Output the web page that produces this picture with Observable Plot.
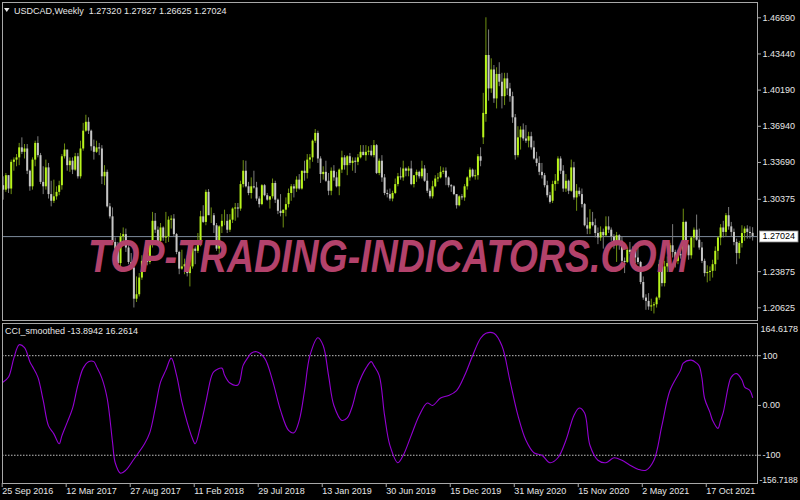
<!DOCTYPE html>
<html><head><meta charset="utf-8">
<script src="https://cdn.jsdelivr.net/npm/d3@7"></script>
<script src="https://cdn.jsdelivr.net/npm/@observablehq/plot@0.6"></script>
<style>
html,body{margin:0;padding:0;background:#000;}
#chart{position:relative;width:800px;height:500px;background:#000;overflow:hidden;}
#main,#cci{position:absolute;left:0;}
#main{top:0;}
#cci{top:321px;}
#overlay{position:absolute;left:0;top:0;pointer-events:none;}
</style></head><body>
<div id="chart">
  <div id="main"></div>
  <div id="cci"></div>
  <svg id="overlay" width="800" height="500"></svg>
</div>
<script>
// ---------------- data ----------------
const symbol = "USDCAD";
const period = "Weekly";
const open = [
1.3160,1.3120,1.3250,1.3130,1.3370,1.3390,1.3410,1.3500,1.3460,1.3490,
1.3290,1.3150,1.3390,1.3540,1.3430,1.3190,1.3150,1.3320,1.3080,1.3020,
1.3060,1.3100,1.3160,1.3420,1.3480,1.3340,1.3380,1.3300,1.3420,1.3240,
1.3490,1.3650,1.3730,1.3650,1.3510,1.3460,1.3500,1.3490,1.3240,1.3280,
1.2970,1.2880,1.2650,1.2590,1.2460,1.2700,1.2720,1.2600,1.2470,1.2420,
1.2140,1.2180,1.2330,1.2480,1.2540,1.2470,1.2640,1.2840,1.2760,1.2660,
1.2780,1.2690,1.2700,1.2850,1.2860,1.2720,1.2560,1.2410,1.2430,1.2450,
1.2370,1.2430,1.2590,1.2570,1.2660,1.2880,1.2830,1.3100,1.2890,1.2890,
1.2800,1.2590,1.2790,1.2840,1.2840,1.2760,1.2850,1.2950,1.2960,1.2950,
1.3170,1.3290,1.3150,1.3090,1.3150,1.3140,1.3040,1.2990,1.3160,1.3070,
1.3030,1.3060,1.3180,1.3030,1.2930,1.2910,1.2940,1.2990,1.3090,1.3150,
1.3130,1.3210,1.3130,1.3290,1.3270,1.3390,1.3410,1.3560,1.3630,1.3400,
1.3260,1.3280,1.3200,1.3110,1.3290,1.3230,1.3150,1.3300,1.3410,1.3340,
1.3420,1.3360,1.3380,1.3370,1.3410,1.3460,1.3430,1.3460,1.3470,1.3430,
1.3520,1.3270,1.3380,1.3230,1.3090,1.3080,1.3040,1.3090,1.3170,1.3240,
1.3230,1.3310,1.3290,1.3310,1.3170,1.3250,1.3280,1.3240,1.3310,1.3200,
1.3110,1.3060,1.3150,1.3220,1.3230,1.3280,1.3290,1.3230,1.3160,1.3150,
1.3080,1.2980,1.3060,1.3050,1.3150,1.3230,1.3300,1.3240,1.3250,1.3420,
1.3590,1.3800,1.4330,1.4030,1.4200,1.3940,1.4160,1.4090,1.3960,1.4120,
1.4030,1.3960,1.3770,1.3430,1.3590,1.3660,1.3580,1.3560,1.3600,1.3500,
1.3400,1.3360,1.3280,1.3250,1.3160,1.3070,1.3020,1.3170,1.3200,1.3400,
1.3290,1.3130,1.3200,1.3110,1.3320,1.3050,1.3110,1.3080,1.2990,1.2800,
1.2770,1.2830,1.2800,1.2730,1.2690,1.2740,1.2710,1.2790,1.2760,1.2700,
1.2620,1.2710,1.2660,1.2480,1.2470,1.2580,1.2560,1.2570,1.2510,1.2470,
1.2290,1.2150,1.2120,1.2070,1.2080,1.2090,1.2150,1.2450,1.2280,1.2430,
1.2460,1.2620,1.2560,1.2480,1.2540,1.2530,1.2830,1.2620,1.2530,1.2690,
1.2760,1.2670,1.2600,1.2480,1.2370,1.2380,1.2390,1.2450,1.2570,1.2690,
1.2780,1.2740,1.2890,1.2790,1.2740,1.2650,1.2550,1.2640,1.2730,1.2770,
1.2740,1.27320];
const high = [
1.3240,1.3270,1.3250,1.3390,1.3410,1.3440,1.3540,1.3590,1.3530,1.3530,
1.3300,1.3410,1.3560,1.3600,1.3450,1.3330,1.3390,1.3360,1.3200,1.3210,
1.3150,1.3200,1.3440,1.3535,1.3480,1.3410,1.3410,1.3450,1.3450,1.3560,
1.3720,1.3793,1.3770,1.3660,1.3570,1.3560,1.3540,1.3520,1.3340,1.3300,
1.3000,1.2960,1.2690,1.2650,1.2730,1.2780,1.2770,1.2620,1.2550,1.2430,
1.2340,1.2370,1.2530,1.2590,1.2560,1.2650,1.2920,1.2910,1.2790,1.2820,
1.2790,1.2920,1.2880,1.2890,1.2900,1.2730,1.2570,1.2580,1.2500,1.2530,
1.2450,1.2600,1.2610,1.2730,1.2930,1.2980,1.3120,1.3125,1.2960,1.2910,
1.2820,1.2800,1.2900,1.2940,1.2900,1.2900,1.2960,1.3000,1.3000,1.3200,
1.3385,1.3380,1.3190,1.3230,1.3290,1.3190,1.3060,1.3170,1.3170,1.3090,
1.3060,1.3220,1.3200,1.3040,1.3080,1.2940,1.3050,1.3130,1.3170,1.3170,
1.3240,1.3260,1.3290,1.3380,1.3440,1.3440,1.3570,1.3665,1.3650,1.3420,
1.3330,1.3380,1.3270,1.3320,1.3340,1.3280,1.3310,1.3470,1.3430,1.3430,
1.3450,1.3410,1.3410,1.3440,1.3520,1.3520,1.3520,1.3510,1.3520,1.3566,
1.3530,1.3400,1.3430,1.3260,1.3120,1.3130,1.3110,1.3220,1.3270,1.3320,
1.3380,1.3320,1.3330,1.3380,1.3230,1.3300,1.3290,1.3380,1.3340,1.3270,
1.3130,1.3200,1.3250,1.3270,1.3330,1.3320,1.3320,1.3240,1.3170,1.3160,
1.3080,1.3070,1.3080,1.3170,1.3240,1.3320,1.3310,1.3300,1.3440,1.3500,
1.3990,1.4669,1.4560,1.4300,1.4240,1.4220,1.4265,1.4170,1.4170,1.4170,
1.4080,1.4000,1.3800,1.3690,1.3690,1.3715,1.3700,1.3640,1.3640,1.3560,
1.3460,1.3420,1.3360,1.3270,1.3200,1.3100,1.3200,1.3260,1.3420,1.3420,
1.3340,1.3260,1.3210,1.3390,1.3370,1.3170,1.3140,1.3130,1.3000,1.2870,
1.2944,1.2920,1.2860,1.2780,1.2790,1.2770,1.2880,1.2880,1.2780,1.2720,
1.2740,1.2720,1.2700,1.2510,1.2600,1.2650,1.2610,1.2600,1.2650,1.2480,
1.2340,1.2180,1.2190,1.2140,1.2110,1.2160,1.2490,1.2460,1.2480,1.2520,
1.2640,1.2810,1.2580,1.2580,1.2590,1.2949,1.2840,1.2630,1.2700,1.2780,
1.2896,1.2770,1.2650,1.2500,1.2440,1.2430,1.2490,1.2610,1.2700,1.2810,
1.2840,1.2910,1.2964,1.2830,1.2770,1.2680,1.2660,1.2800,1.2790,1.2800,
1.2790,1.27827];
const low = [
1.3030,1.3100,1.3090,1.3080,1.3290,1.3330,1.3340,1.3440,1.3400,1.3260,
1.3110,1.3120,1.3330,1.3410,1.3170,1.3080,1.3120,1.3040,1.2970,1.3000,
1.3030,1.3070,1.3120,1.3400,1.3290,1.3280,1.3260,1.3290,1.3220,1.3220,
1.3470,1.3640,1.3620,1.3470,1.3390,1.3450,1.3430,1.3170,1.3160,1.2960,
1.2860,1.2640,1.2540,1.2450,1.2410,1.2640,1.2560,1.2450,1.2410,1.2061,
1.2110,1.2160,1.2310,1.2450,1.2440,1.2450,1.2600,1.2730,1.2630,1.2650,
1.2660,1.2640,1.2650,1.2770,1.2700,1.2540,1.2360,1.2400,1.2360,1.2340,
1.2250,1.2410,1.2450,1.2550,1.2610,1.2820,1.2800,1.2900,1.2820,1.2730,
1.2570,1.2530,1.2730,1.2800,1.2730,1.2740,1.2820,1.2840,1.2870,1.2930,
1.3140,1.3140,1.3070,1.3040,1.3130,1.3020,1.2960,1.2980,1.3060,1.3020,
1.2950,1.3040,1.3000,1.2900,1.2880,1.2780,1.2880,1.2960,1.3020,1.3050,
1.3100,1.3120,1.3120,1.3200,1.3220,1.3310,1.3370,1.3540,1.3360,1.3180,
1.3210,1.3190,1.3070,1.3070,1.3200,1.3140,1.3070,1.3270,1.3300,1.3250,
1.3340,1.3290,1.3270,1.3340,1.3400,1.3430,1.3380,1.3430,1.3420,1.3410,
1.3260,1.3250,1.3190,1.3070,1.3050,1.3020,1.3015,1.3080,1.3150,1.3210,
1.3200,1.3240,1.3240,1.3160,1.3140,1.3190,1.3220,1.3220,1.3190,1.3090,
1.3040,1.3040,1.3140,1.3190,1.3220,1.3260,1.3160,1.3140,1.3100,1.3070,
1.2950,1.2970,1.3030,1.3020,1.3120,1.3200,1.3230,1.3210,1.3210,1.3330,
1.3530,1.3730,1.3920,1.3990,1.3900,1.3850,1.4050,1.3850,1.3880,1.3970,
1.3910,1.3720,1.3390,1.3410,1.3480,1.3560,1.3540,1.3500,1.3480,1.3390,
1.3330,1.3250,1.3220,1.3140,1.3050,1.2995,1.3000,1.3110,1.3170,1.3260,
1.3100,1.3100,1.3080,1.3100,1.3030,1.2930,1.3060,1.2960,1.2790,1.2720,
1.2720,1.2790,1.2690,1.2630,1.2660,1.2590,1.2700,1.2730,1.2660,1.2590,
1.2470,1.2580,1.2460,1.2370,1.2460,1.2540,1.2490,1.2460,1.2450,1.2270,
1.2130,1.2040,1.2040,1.2030,1.2007,1.2060,1.2130,1.2250,1.2250,1.2380,
1.2420,1.2510,1.2420,1.2450,1.2500,1.2510,1.2590,1.2490,1.2500,1.2600,
1.2660,1.2580,1.2460,1.2340,1.2287,1.2300,1.2330,1.2390,1.2490,1.2620,
1.2690,1.2700,1.2760,1.2700,1.2620,1.2450,1.2500,1.2600,1.2660,1.2680,
1.2680,1.26625];
const close = [
1.3120,1.3250,1.3130,1.3370,1.3390,1.3410,1.3500,1.3460,1.3490,1.3290,
1.3150,1.3390,1.3540,1.3430,1.3190,1.3150,1.3320,1.3080,1.3020,1.3060,
1.3100,1.3160,1.3420,1.3480,1.3340,1.3380,1.3300,1.3420,1.3240,1.3490,
1.3650,1.3730,1.3650,1.3510,1.3460,1.3500,1.3490,1.3240,1.3280,1.2970,
1.2880,1.2650,1.2590,1.2460,1.2700,1.2720,1.2600,1.2470,1.2420,1.2140,
1.2180,1.2330,1.2480,1.2540,1.2470,1.2640,1.2840,1.2760,1.2660,1.2780,
1.2690,1.2700,1.2850,1.2860,1.2720,1.2560,1.2410,1.2430,1.2450,1.2370,
1.2430,1.2590,1.2570,1.2660,1.2880,1.2830,1.3100,1.2890,1.2890,1.2800,
1.2590,1.2790,1.2840,1.2840,1.2760,1.2850,1.2950,1.2960,1.2950,1.3170,
1.3290,1.3150,1.3090,1.3150,1.3140,1.3040,1.2990,1.3160,1.3070,1.3030,
1.3060,1.3180,1.3030,1.2930,1.2910,1.2940,1.2990,1.3090,1.3150,1.3130,
1.3210,1.3130,1.3290,1.3270,1.3390,1.3410,1.3560,1.3630,1.3400,1.3260,
1.3280,1.3200,1.3110,1.3290,1.3230,1.3150,1.3300,1.3410,1.3340,1.3420,
1.3360,1.3380,1.3370,1.3410,1.3460,1.3430,1.3460,1.3470,1.3430,1.3520,
1.3270,1.3380,1.3230,1.3090,1.3080,1.3040,1.3090,1.3170,1.3240,1.3230,
1.3310,1.3290,1.3310,1.3170,1.3250,1.3280,1.3240,1.3310,1.3200,1.3110,
1.3060,1.3150,1.3220,1.3230,1.3280,1.3290,1.3230,1.3160,1.3150,1.3080,
1.2980,1.3060,1.3050,1.3150,1.3230,1.3300,1.3240,1.3250,1.3420,1.3380,
1.3810,1.4330,1.4030,1.4200,1.3940,1.4160,1.4090,1.3960,1.4120,1.4030,
1.3960,1.3770,1.3430,1.3590,1.3660,1.3580,1.3560,1.3600,1.3500,1.3400,
1.3360,1.3280,1.3250,1.3160,1.3070,1.3010,1.3170,1.3200,1.3400,1.3290,
1.3130,1.3200,1.3110,1.3320,1.3050,1.3110,1.3080,1.2990,1.2800,1.2770,
1.2830,1.2800,1.2730,1.2690,1.2740,1.2710,1.2790,1.2760,1.2700,1.2620,
1.2710,1.2660,1.2480,1.2470,1.2580,1.2560,1.2570,1.2510,1.2470,1.2290,
1.2150,1.2120,1.2070,1.2080,1.2090,1.2150,1.2450,1.2280,1.2430,1.2460,
1.2620,1.2560,1.2480,1.2540,1.2530,1.2830,1.2620,1.2530,1.2690,1.2760,
1.2670,1.2600,1.2480,1.2370,1.2380,1.2390,1.2450,1.2570,1.2690,1.2780,
1.2740,1.2890,1.2790,1.2740,1.2650,1.2550,1.2640,1.2730,1.2770,1.2740,
1.2730,1.27024];

const priceTicks = [1.46690, 1.43440, 1.40190, 1.36940, 1.33690, 1.30375, 1.23875, 1.20625];
const dateTickBars = [0, 24, 48, 72, 96, 120, 144, 168, 192, 216, 240, 264];
const dateTickLabels = ["25 Sep 2016","12 Mar 2017","27 Aug 2017","11 Feb 2018","29 Jul 2018","13 Jan 2019","30 Jun 2019","15 Dec 2019","31 May 2020","15 Nov 2020","2 May 2021","17 Oct 2021"];

const cciBar = [0,2,4,6,8,10,11,13,15,17,19,21,22,24,26,28,30,32,34,35,37,39,41,42,44,46,49,53,55,57,59,61,63,65,67,69,71,72,74,76,78,79,82,83,85,88,90,92,93,95,98,101,104,107,109,111,113,115,118,120,122,124,127,129,131,133,136,138,139,141,143,145,148,150,153,156,159,161,164,167,170,173,176,179,181,184,187,190,193,196,199,202,205,208,211,214,216,218,220,223,226,229,232,235,238,241,244,247,250,254,255,258,260,261,262,263,265,266,268,269,270,272,273,275,277,278,280,281];
const cciValue = [47,57,95,122,116,88,78,57,10,-41,-57,-77,-61,-34,-6,41,75,88,88,78,55,14,-74,-115,-136,-130,-108,-77,-54,-6,47,71,95,61,7,-34,-67,-77,-41,7,57,68,75,61,45,41,81,98,105,108,95,50,-10,-50,-55,-30,30,100,136,120,60,0,-30,-25,0,40,75,88,80,60,-20,-80,-115,-100,-60,-20,5,0,15,20,30,60,100,135,145,145,120,50,-20,-70,-95,-100,-115,-105,-70,-20,-5,-15,-80,-110,-115,-105,-110,-120,-128,-130,-110,-40,30,71,85,91,85,79,55,14,-14,-30,-46,-30,-14,41,57,64,51,37,30,16.2614];
const cciName = "CCI_smoothed";
const cciBuffers = [-13.8942, 16.2614];
const cciLevels = [100, -100];
const cciTicks = [100, 0, -100];
const cciTickLabels = ["100", "0.00", "-100"];
const cciMin = -156.7188, cciMax = 164.6178;
const watermark = "TOP-TRADING-INDICATORS.COM";

// ---------------- styles ----------------
const bullBody = "#b8f41c", bearBody = "#c6c6c6";
const bullWick = "#6f9012", bearWick = "#7c7c7c";
const textColor = "#e6e6e6";
const frameColor = "#a8a8a8";
const font = "'Liberation Sans', Arial, sans-serif";

const bars = open.map((o, i) => ({i, open: o, high: high[i], low: low[i], close: close[i], up: close[i] >= o}));
const last = bars[bars.length - 1];
const xDomain = [-0.26, 282.83];
const cci = cciBar.map((b, k) => ({i: b, v: cciValue[k]}));

const main = Plot.plot({
  width: 800, height: 321,
  marginTop: 2, marginBottom: 1, marginLeft: 2, marginRight: 43,
  style: {background: "#000", color: textColor, fontSize: "9px", fontFamily: font},
  x: {domain: xDomain, axis: null, label: null},
  y: {domain: [1.19484, 1.48065], axis: null, label: null},
  marks: [
    Plot.ruleY([last.close], {stroke: "#7d8c9c", strokeWidth: 1}),
    Plot.ruleX(bars, {x: "i", y1: "low", y2: "high", stroke: d => d.up ? bullWick : bearWick, strokeWidth: 1}),
    Plot.ruleX(bars, {x: "i", y1: "open", y2: "close", stroke: d => d.up ? bullBody : bearBody, strokeWidth: 2}),
    Plot.axisY(priceTicks, {anchor: "right", label: null, tickSize: 3, tickPadding: 2, tickFormat: d => d.toFixed(5), stroke: frameColor}),
    Plot.text([last.close], {y: d => d, frameAnchor: "right", dx: 5, textAnchor: "start", text: d => d.toFixed(5), fill: "#000"}),
    Plot.frame({stroke: frameColor})
  ]
});
document.getElementById("main").appendChild(main);

// white label box behind current price
d3.select(main).selectAll("g[aria-label='text'] text").filter(function(){ return this.textContent === last.close.toFixed(5); })
  .each(function(){
    const bb = this.getBBox();
    const r = document.createElementNS("http://www.w3.org/2000/svg", "rect");
    r.setAttribute("x", bb.x - 3); r.setAttribute("y", bb.y - 0.5);
    r.setAttribute("width", bb.width + 6); r.setAttribute("height", bb.height + 1);
    r.setAttribute("fill", "#fff"); r.setAttribute("stroke", "#8a8a8a"); r.setAttribute("stroke-width", 0.8);
    const t = this.getAttribute("transform"); if (t) r.setAttribute("transform", t);
    this.parentNode.insertBefore(r, this);
  });

const cciPlot = Plot.plot({
  width: 800, height: 179,
  marginTop: 2, marginBottom: 17, marginLeft: 2, marginRight: 43,
  style: {background: "#000", color: textColor, fontSize: "9px", fontFamily: font},
  x: {domain: xDomain, axis: null, label: null},
  y: {domain: [cciMin, cciMax], axis: null, label: null},
  marks: [
    Plot.ruleY(cciLevels, {stroke: "#bdbdbd", strokeDasharray: "1.5,1.5", strokeWidth: 1}),
    Plot.line(cci, {x: "i", y: "v", stroke: "#9400d3", strokeWidth: 1.1, curve: "catmull-rom"}),
    Plot.axisY(cciTicks, {anchor: "right", label: null, tickSize: 3, tickPadding: 2, tickFormat: d => cciTickLabels[cciTicks.indexOf(d)], stroke: frameColor}),
    Plot.text([cciMax], {y: d => d, frameAnchor: "right", dx: 3, dy: 2, textAnchor: "start", lineAnchor: "top", text: d => d.toFixed(4), fill: textColor}),
    Plot.text([cciMin], {y: d => d, frameAnchor: "right", dx: 2, dy: -1, textAnchor: "start", lineAnchor: "bottom", fontSize: 8.5, text: d => d.toFixed(4), fill: textColor}),
    Plot.axisX(dateTickBars, {anchor: "bottom", label: null, tickSize: 4, tickPadding: 0, textAnchor: "start", dx: -1, tickFormat: d => dateTickLabels[dateTickBars.indexOf(d)], stroke: frameColor}),
    Plot.frame({stroke: frameColor})
  ]
});
document.getElementById("cci").appendChild(cciPlot);

// overlay: headers + watermark
const ov = d3.select("#overlay");
ov.append("polygon").attr("points", "4,8 9.5,8 6.75,12").attr("fill", textColor);
ov.append("text").attr("x", 14).attr("y", 13.5).attr("fill", textColor)
  .style("font", `9px ${font}`).attr("xml:space", "preserve")
  .text(`${symbol},${period}  ${last.open.toFixed(5)} ${last.high.toFixed(5)} ${last.low.toFixed(5)} ${last.close.toFixed(5)}`);
ov.append("text").attr("x", 5).attr("y", 334).attr("fill", textColor)
  .style("font", `9px ${font}`)
  .text(`${cciName} ${cciBuffers[0].toFixed(4)} ${cciBuffers[1].toFixed(4)}`);
ov.append("g").attr("transform", "translate(88,272) scale(1,1.27)")
  .append("text").attr("x", 0).attr("y", 0)
  .attr("fill", "#b3426b")
  .attr("textLength", 600).attr("lengthAdjust", "spacingAndGlyphs")
  .style("font-family", font).style("font-weight", "bold").style("font-style", "italic").style("font-size", "37px")
  .text(watermark);
</script>
</body></html>
